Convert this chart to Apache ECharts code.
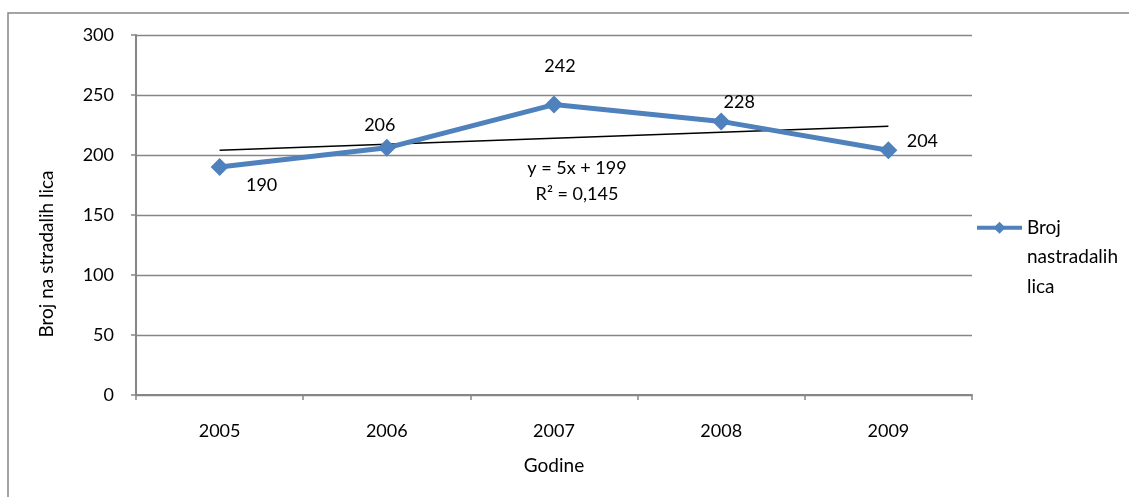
<!DOCTYPE html>
<html>
<head>
<meta charset="utf-8">
<script src="https://cdn.jsdelivr.net/npm/echarts@6/dist/echarts.min.js"></script>
<style>
html,body{margin:0;padding:0;background:#fff;}
#c{width:1129px;height:497px;}
</style>
</head>
<body>
<div id="c"></div>
<script>
const categories = ['2005', '2006', '2007', '2008', '2009'];
const values = [190, 206, 242, 228, 204];
const trendValues = [204, 209, 214, 219, 224];
const seriesName = 'Broj nastradalih lica';
const legendLines = ['Broj', 'nastradalih', 'lica'];
const yAxisName = 'Broj na stradalih lica';
const xAxisName = 'Godine';
const trendEquation = 'y = 5x + 199';
const trendR2 = 'R² = 0,145';
const yTicks = { min: 0, max: 300, interval: 50 };

const labelOffsets = [[42, 18], [-7, -23], [6, -38], [18, -19], [34, -9]];
const FONT = 'Lato, "Open Sans", sans-serif';
const NUM = 18;
const TXT = 19;
const BLUE = '#4F81BD';
const GREY = '#868686';

const chart = echarts.init(document.getElementById('c'), null, { renderer: 'canvas' });

chart.setOption({
  animation: false,
  backgroundColor: '#fff',
  grid: { left: 136, right: 157, top: 35, bottom: 102, containLabel: false },
  xAxis: {
    type: 'category',
    data: categories,
    boundaryGap: true,
    name: xAxisName,
    nameLocation: 'middle',
    nameGap: 61,
    nameTextStyle: { fontFamily: FONT, fontSize: TXT, color: '#000' },
    axisLine: { show: true, lineStyle: { color: GREY, width: 2 } },
    axisTick: { show: true, length: 5, inside: false, lineStyle: { color: GREY, width: 1.5 } },
    axisLabel: { fontFamily: FONT, fontSize: NUM, color: '#000', margin: 27 },
    splitLine: { show: false }
  },
  yAxis: {
    type: 'value',
    min: yTicks.min,
    max: yTicks.max,
    interval: yTicks.interval,
    axisLine: { show: true, lineStyle: { color: GREY, width: 2 } },
    axisTick: { show: true, length: 5, inside: false, lineStyle: { color: GREY, width: 1.5 } },
    axisLabel: { fontFamily: FONT, fontSize: NUM, color: '#000', margin: 22 },
    splitLine: { show: true, lineStyle: { color: GREY, width: 1.3 } }
  },
  legend: {
    show: true,
    data: [seriesName],
    left: 975,
    top: 154,
    padding: 0,
    orient: 'vertical',
    itemWidth: 45,
    itemHeight: 15,
    itemGap: 10,
    lineStyle: { width: 4 },
    formatter: () => '\n\n' + legendLines.join('\n'),
    textStyle: { fontFamily: FONT, fontSize: TXT, color: '#000', lineHeight: 29.5 }
  },
  series: [
    {
      name: seriesName,
      type: 'line',
      data: values.map((v, i) => ({
        value: v,
        label: { offset: labelOffsets[i] }
      })),
      symbol: 'diamond',
      symbolSize: 18,
      lineStyle: { color: BLUE, width: 5 },
      itemStyle: { color: BLUE },
      label: {
        show: true,
        position: 'inside',
        fontFamily: FONT,
        fontSize: NUM,
        color: '#000'
      },
      z: 3
    },
    {
      name: 'trend',
      type: 'line',
      data: trendValues,
      symbol: 'none',
      lineStyle: { color: '#000', width: 1.5 },
      itemStyle: { color: '#000' },
      silent: true,
      z: 2
    }
  ],
  graphic: [
    {
      type: 'rect',
      shape: { x: 8, y: 13, width: 1300, height: 700 },
      style: { fill: 'none', stroke: GREY, lineWidth: 1.5 },
      silent: true
    },
    {
      type: 'text',
      x: 47, y: 254,
      rotation: Math.PI / 2,
      style: { text: yAxisName, fontFamily: FONT, fontSize: TXT, fill: '#000', align: 'center', verticalAlign: 'middle' }
    },
    {
      type: 'text',
      x: 577, y: 168,
      style: { text: trendEquation, fontFamily: FONT, fontSize: NUM, fill: '#000', align: 'center', verticalAlign: 'middle' }
    },
    {
      type: 'text',
      x: 577, y: 194,
      style: { text: trendR2, fontFamily: FONT, fontSize: NUM, fill: '#000', align: 'center', verticalAlign: 'middle' }
    }
  ]
});
</script>
</body>
</html>
